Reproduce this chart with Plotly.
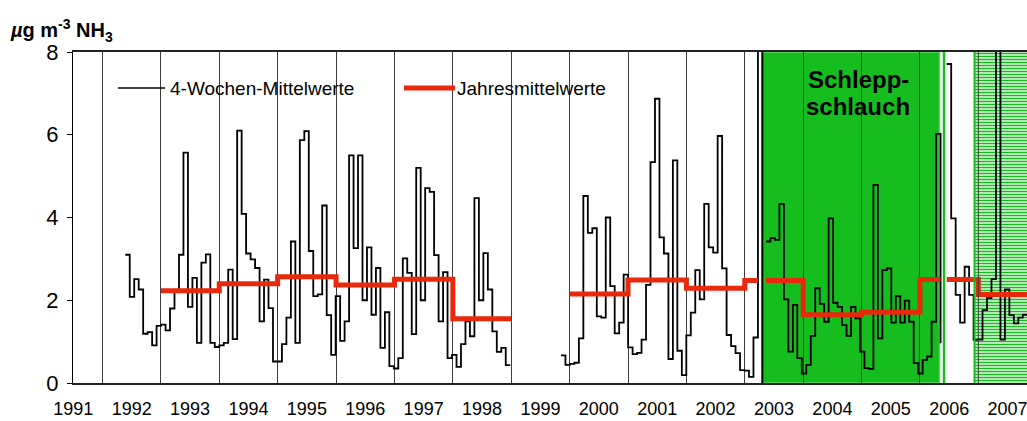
import plotly.graph_objects as go

FONT = "Liberation Sans, Arial, Helvetica, sans-serif"

# Calendar years on the x axis (labels sit mid-year, grid lines at year starts)
years = list(range(1991, 2008))

# Length of one sampling period (4 weeks) in years
PERIOD = 28 / 365.25

# 4-week mean NH3 concentrations (µg m-3), consecutive periods per record
seg1_start = 1992.39
seg1_vals = [3.10, 2.08, 2.51, 2.26, 1.19, 1.23, 0.91, 1.38, 1.41, 1.27, 1.80, 2.25,
             3.10, 5.57, 1.84, 2.54, 0.97, 2.91, 3.11, 0.97, 0.87, 0.91, 0.97, 2.74,
             1.06, 6.10, 4.09, 3.13, 2.99, 2.78, 1.49, 2.50, 1.81, 0.52, 0.52, 0.94,
             1.58, 3.42, 0.97, 5.87, 6.09, 3.19, 2.10, 2.14, 4.29, 1.64, 0.68, 2.10,
             1.02, 1.49, 5.50, 3.26, 5.50, 2.00, 3.28, 1.65, 2.78, 0.85, 1.71, 0.41,
             0.35, 0.60, 3.01, 2.66, 1.18, 5.20, 2.00, 4.71, 4.62, 3.09, 1.49, 2.68,
             0.60, 0.68, 0.39, 0.94, 1.49, 1.13, 4.47, 2.00, 3.14, 2.26, 1.25, 0.75,
             0.85, 0.43]
seg1_tail = seg1_vals[-1]

seg2_start = 1999.852
seg2_vals = [0.67, 0.44, 0.46, 0.49, 1.08, 4.52, 3.63, 3.74, 1.61, 1.58, 4.00, 2.34,
             1.20, 1.46, 2.62, 0.86, 0.70, 0.73, 1.05, 2.37, 5.34, 6.87, 3.52, 3.13,
             0.58, 5.38, 0.78, 0.19, 1.15, 1.70, 2.73, 2.02, 4.33, 3.28, 3.15, 5.97,
             2.77, 1.16, 0.89, 0.72, 0.31, 0.30, 0.15, 1.10, 9.50]
seg2_tail = 0.0

seg3_start = 2003.363
seg3_vals = [3.42, 3.50, 3.46, 4.33, 2.02, 0.76, 1.89, 0.60, 0.23, 0.44, 1.14, 2.29,
             1.91, 1.48, 3.98, 1.94, 1.84, 1.40, 1.14, 1.84, 1.56, 0.76, 0.36, 0.34,
             4.79, 1.08, 2.73, 2.77, 1.46, 2.10, 1.46, 1.99, 1.48, 0.48, 0.23, 0.56,
             0.64, 1.48, 6.02]
seg3_tail = 0.96

seg4_start = 2006.458
seg4_vals = [7.71, 3.98, 2.13, 1.46, 2.81, 2.13, 1.04, 1.05, 1.76, 2.05, 2.51, 9.50,
             1.05, 2.26, 1.64, 1.44, 1.58, 1.65]
seg4_tail = seg4_vals[-1]

# Annual means (µg m-3)
mean_years = [1993, 1994, 1995, 1996, 1997, 1998,
              2000, 2001, 2002, 2003, 2004, 2005, 2006, 2007]
mean_vals = [2.23, 2.40, 2.57, 2.37, 2.51, 1.55,
             2.15, 2.49, 2.29, 2.48, 1.65, 1.71, 2.50, 2.14]

# Spreading periods
trailing_hose = (2003.290, 2006.335)   # Schleppschlauch
trailing_hose_end_mark = 2006.412
later_period_start = 2006.934

records = [
    (seg1_start, seg1_vals, seg1_tail),
    (seg2_start, seg2_vals, seg2_tail),
    (seg3_start, seg3_vals, seg3_tail),
    (seg4_start, seg4_vals, seg4_tail),
]


def record_xy(start, vals, tail):
    xs = [start + i * PERIOD for i in range(len(vals))]
    xs.append(start + len(vals) * PERIOD)
    return xs, list(vals) + [tail]


# gaps in the annual-mean line where the measurement record is interrupted
gaps = [
    (seg2_start + (len(seg2_vals) - 1) * PERIOD, seg3_start),
    (seg3_start + len(seg3_vals) * PERIOD, seg4_start),
]


def annual_steps(yrs, vals, gaps):
    xs, ys = [], []
    prev = None
    for y, v in zip(yrs, vals):
        if prev is not None and y != prev + 1:
            xs.append(None)
            ys.append(None)
        pieces = [(y, y + 1)]
        for g0, g1 in gaps:
            new = []
            for a, b in pieces:
                if g1 <= a or g0 >= b:
                    new.append((a, b))
                else:
                    if g0 > a:
                        new.append((a, g0))
                    if g1 < b:
                        new.append((g1, b))
            pieces = new
        for i, (a, b) in enumerate(pieces):
            if i > 0:
                xs.append(None)
                ys.append(None)
            xs += [a, b]
            ys += [v, v]
        prev = y
    return xs, ys


GREEN = "#15BD1F"
RED = "#E8290B"
GRID = "#3c3c3c"

fig = go.Figure()

# hatched area after the trailing-hose period
fig.add_trace(go.Scatter(
    x=[later_period_start, 2009, 2009, later_period_start, later_period_start],
    y=[0, 0, 8, 8, 0],
    mode="lines", line=dict(width=0), fill="toself",
    fillcolor="rgba(0,0,0,0)",
    fillpattern=dict(shape="-", fgcolor=GREEN, bgcolor="white", size=3,
                     solidity=0.55, fgopacity=1),
    hoverinfo="skip", showlegend=False,
))

for start, vals, tail in records:
    xs, ys = record_xy(start, vals, tail)
    fig.add_trace(go.Scatter(
        x=xs, y=ys, mode="lines", line=dict(color="black", width=1.8, shape="hv"),
        showlegend=False, hoverinfo="skip",
    ))

mx, my = annual_steps(mean_years, mean_vals, gaps)
fig.add_trace(go.Scatter(
    x=mx, y=my, mode="lines", line=dict(color=RED, width=5),
    showlegend=False, hoverinfo="skip", connectgaps=False,
))

# pixel helpers for the paper-referenced decorations
L, R, T, B = 73, 1027, 52, 383


def px_x(p):
    return (p - L) / (R - L)


def px_y(p):
    return (B - p) / (B - T)


shapes = [
    dict(type="rect", xref="x", yref="y", x0=trailing_hose[0], x1=trailing_hose[1],
         y0=0, y1=8, fillcolor=GREEN, line=dict(color="#63D069", width=1.5), layer="below"),
    dict(type="line", xref="x", yref="y", x0=trailing_hose_end_mark, x1=trailing_hose_end_mark,
         y0=0, y1=8, line=dict(color=GREEN, width=2.5), layer="below"),
    dict(type="line", xref="x", yref="y", x0=later_period_start, x1=later_period_start,
         y0=0, y1=8, line=dict(color=GREEN, width=2), layer="above"),
    dict(type="line", xref="x", yref="y", x0=2007, x1=2007, y0=0, y1=8,
         line=dict(color=GRID, width=1), layer="above"),
    # legend box
    dict(type="rect", xref="paper", yref="paper", x0=px_x(92), x1=px_x(645),
         y0=px_y(107), y1=px_y(68), fillcolor="white", line=dict(width=0), layer="between"),
    dict(type="line", xref="paper", yref="paper", x0=px_x(118), x1=px_x(165),
         y0=px_y(88), y1=px_y(88), line=dict(color="black", width=1.5)),
    dict(type="line", xref="paper", yref="paper", x0=px_x(404), x1=px_x(455),
         y0=px_y(88), y1=px_y(88), line=dict(color=RED, width=5)),
]

annotations = [
    dict(text="4-Wochen-Mittelwerte", xref="paper", yref="paper", x=px_x(168), y=px_y(88),
         xanchor="left", yanchor="middle", showarrow=False, font=dict(size=19, color="black")),
    dict(text="Jahresmittelwerte", xref="paper", yref="paper", x=px_x(455), y=px_y(88),
         xanchor="left", yanchor="middle", showarrow=False, font=dict(size=19, color="black")),
    dict(text="<b>Schlepp-</b>", xref="x", yref="paper", x=2004.94, y=px_y(79),
         xanchor="center", yanchor="middle", showarrow=False, font=dict(size=24, color="black")),
    dict(text="<b>schlauch</b>", xref="x", yref="paper", x=2004.94, y=px_y(106),
         xanchor="center", yanchor="middle", showarrow=False, font=dict(size=24, color="black")),
    dict(text="<b><i>µ</i>g m<sup>-3</sup> NH<sub>3</sub></b>", xref="paper", yref="paper",
         x=px_x(8), y=px_y(30), xanchor="left", yanchor="middle", showarrow=False,
         font=dict(size=20, color="black")),
]

fig.update_layout(
    width=1027, height=421,
    margin=dict(l=L, r=1027 - R, t=T, b=421 - B, pad=0, autoexpand=False),
    paper_bgcolor="white", plot_bgcolor="white",
    font=dict(family=FONT, color="black"),
    showlegend=False,
    shapes=shapes, annotations=annotations,
    xaxis=dict(
        range=[1991.495, 2007.833],
        automargin=False,
        tickmode="array",
        tickvals=[y + 0.5 for y in years],
        ticktext=[str(y) for y in years],
        ticks="", showgrid=False, zeroline=False,
        showline=True, linecolor="#222222", linewidth=1.5, mirror=True,
        tickfont=dict(size=18, color="black"),
        ticklabelstandoff=9,
        ticklabeloverflow="allow",
        minor=dict(tickmode="array", tickvals=years[1:], showgrid=True,
                   gridcolor=GRID, gridwidth=1, ticks=""),
    ),
    yaxis=dict(
        range=[0, 8], tickmode="array", tickvals=[0, 2, 4, 6, 8],
        automargin=False,
        ticks="outside", ticklen=5, tickcolor="black", tickwidth=1,
        showgrid=False, zeroline=False,
        showline=True, linecolor="black", linewidth=1,
        tickfont=dict(size=22, color="black"),
        ticklabelstandoff=4,
    ),
)

fig.write_html("out.html")
